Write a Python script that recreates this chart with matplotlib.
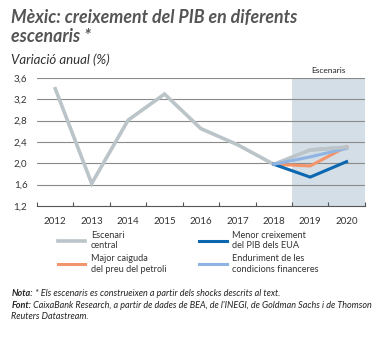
import matplotlib.pyplot as plt
import numpy as np

plt.rcParams['font.family'] = ['Lato', 'DejaVu Sans']

# GDP growth, % y/y
years = [2012, 2013, 2014, 2015, 2016, 2017, 2018, 2019, 2020]
central = [3.4, 1.62, 2.81, 3.3, 2.65, 2.35, 1.98, 2.25, 2.3]
scen_years = [2018, 2019, 2020]
us_slowdown = [1.98, 1.74, 2.03]
oil_drop = [1.98, 1.95, 2.31]
fin_tight = [1.98, 2.12, 2.28]

yticks = [1.2, 1.6, 2.0, 2.4, 2.8, 3.2, 3.6]
ytick_labels = ['1,2', '1,6', '2,0', '2,4', '2,8', '3,2', '3,6']

c_central = '#bac4c9'
c_us = '#0a67b0'
c_oil = '#f3956c'
c_fin = '#8fb4e3'
txt = '#555555'
note_c = '#222222'

fig = plt.figure(figsize=(3.82, 3.38), dpi=100)
ax = fig.add_axes([0.097, 0.391, 0.858, 0.378])

ax.axvspan(2018.5, 2020.5, color='#d3dee6', lw=0, zorder=0)
for y in yticks[1:]:
    ax.axhline(y, color='#8a8a8a', lw=0.8, zorder=1)

l1, = ax.plot(years, central, color=c_central, lw=2.6, zorder=3, solid_joinstyle='miter')
l2, = ax.plot(scen_years, us_slowdown, color=c_us, lw=2.2, zorder=4)
l3, = ax.plot(scen_years, oil_drop, color=c_oil, lw=2.2, zorder=3)
l4, = ax.plot(scen_years, fin_tight, color=c_fin, lw=2.2, zorder=4)
ax.plot(years[-2:], central[-2:], color=c_central, lw=2.6, zorder=5)

ax.set_xlim(2011.5, 2020.5)
ax.set_ylim(1.2, 3.6)
ax.set_yticks(yticks)
ax.set_yticklabels(ytick_labels)
ax.set_xticks(years)
ax.set_xticks(np.arange(2011.5, 2021, 1), minor=True)
ax.tick_params(axis='x', which='major', length=0, pad=8, labelsize=7, labelcolor='#333333')
ax.tick_params(axis='x', which='minor', direction='in', length=3, width=0.8, color='#555555')
ax.tick_params(axis='y', length=0, pad=7, labelsize=7, labelcolor='#333333')
for s in ['top', 'right', 'left']:
    ax.spines[s].set_visible(False)
ax.spines['bottom'].set_color('#555555')
ax.spines['bottom'].set_linewidth(0.8)

ax.text(2019.5, 3.68, 'Escenaris', ha='center', va='bottom', fontsize=6, color='#222222')

fig.text(0.03, 0.972, 'Mèxic: creixement del PIB en diferents\nescenaris *', fontsize=12.8,
         fontweight='bold', fontstyle='italic', color=txt, va='top', linespacing=1.12)
fig.text(0.03, 0.822, 'Variació anual (%)', fontsize=9.5, fontstyle='italic', color='#333333', va='center')

fig.legend([l1, l3, l2, l4],
           ['Escenari\ncentral', 'Major caiguda\ndel preu del petroli',
            'Menor creixement\ndel PIB dels EUA', 'Enduriment de les\ncondicions financeres'],
           loc='upper left', bbox_to_anchor=(0.13, 0.342), ncol=2, frameon=False,
           fontsize=6.6, handlelength=3.0, handletextpad=0.6, columnspacing=3.6,
           labelspacing=0.45, labelcolor='#333333')

# footnotes with bold lead-ins
n1 = fig.text(0.03, 0.125, 'Nota:', fontsize=6.5, fontweight='bold', fontstyle='italic', color=note_c)
ax.annotate(' * Els escenaris es construeixen a partir dels shocks descrits al text.',
            xy=(1, 0), xycoords=n1, va='bottom', fontsize=6.5, fontstyle='italic', color=note_c,
            annotation_clip=False)
n2 = fig.text(0.03, 0.09, 'Font:', fontsize=6.5, fontweight='bold', fontstyle='italic', color=note_c)
ax.annotate(" CaixaBank Research, a partir de dades de BEA, de l'INEGI, de Goldman Sachs i de Thomson",
            xy=(1, 0), xycoords=n2, va='bottom', fontsize=6.5, fontstyle='italic', color=note_c,
            annotation_clip=False)
fig.text(0.03, 0.055, 'Reuters Datastream.', fontsize=6.5, fontstyle='italic', color=note_c)

fig.savefig('out.png', dpi=100)
